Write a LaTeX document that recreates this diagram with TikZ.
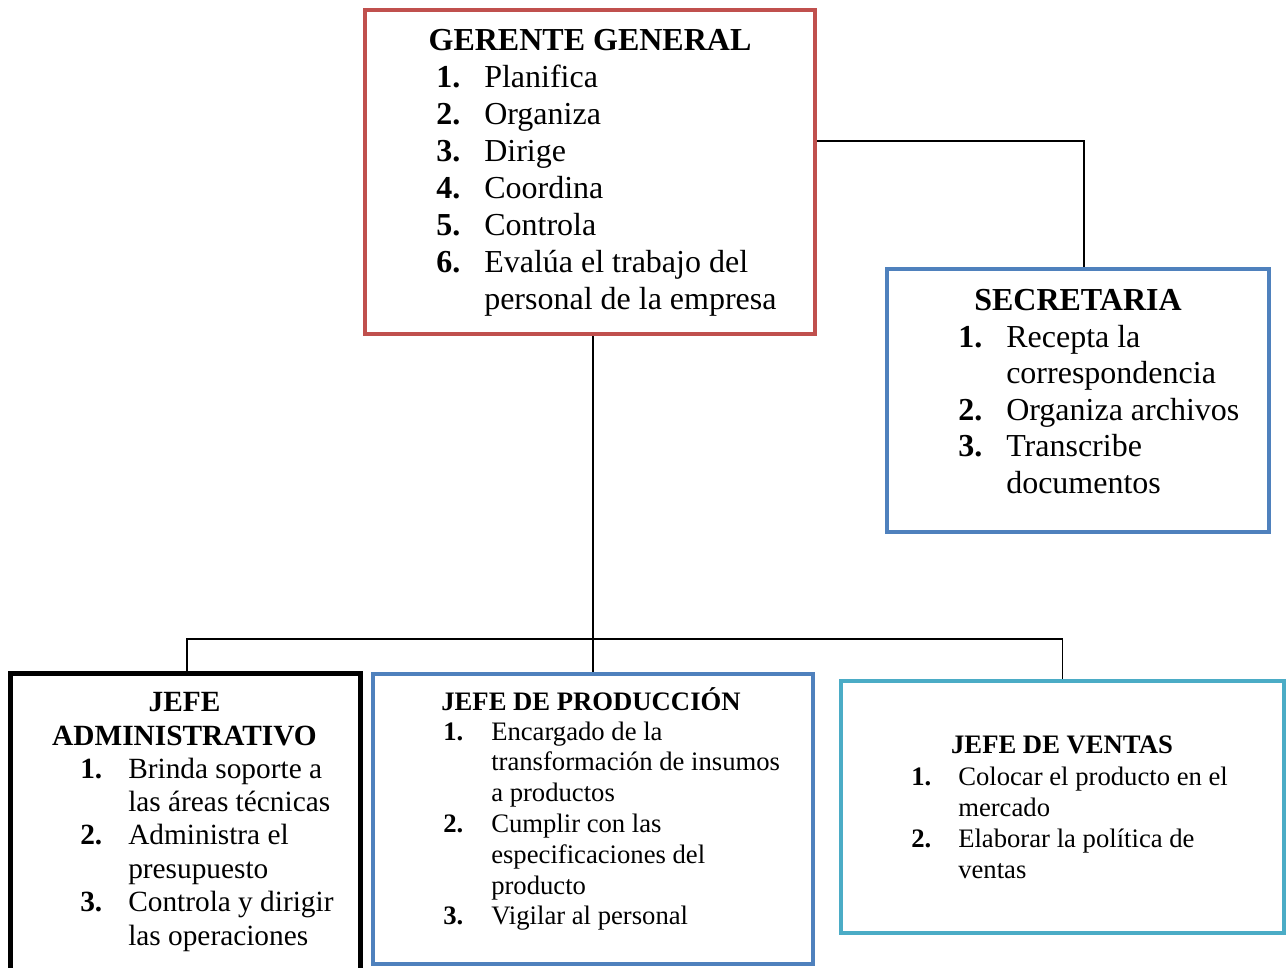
\documentclass[tikz,border=0pt]{standalone}
\usepackage{fontspec}
\setmainfont{Liberation Serif}
\usepackage{array}
\definecolor{boxred}{HTML}{C0504D}
\definecolor{boxblue}{HTML}{4F81BD}
\definecolor{boxcyan}{HTML}{4BACC6}
% numbered list: number column width, rows
\newcommand{\orglist}[2]{\begin{tabular}[t]{@{}p{#1}@{}l@{}}#2\end{tabular}}
\begin{document}
\begin{tikzpicture}[x=0.75pt,y=-0.75pt,
  orgbox/.style={draw,rectangle,inner sep=0pt,line width=3.4pt},
  conn/.style={draw,line width=1.2pt},
  title/.style={inner sep=0pt,anchor=base,font=\bfseries#1},
  items/.style={inner sep=0pt,anchor=base west,font=#1},
]
\useasboundingbox (0,0) rectangle (1287,967);

% boxes
\node[orgbox,draw=boxred,minimum width=337.5pt,minimum height=243pt] (ger) at (590,172) {};
\node[orgbox,draw=boxblue,minimum width=286.5pt,minimum height=197.25pt] (sec) at (1078,400.5) {};
\node[orgbox,draw=black,line width=3.75pt,minimum width=262.5pt,minimum height=224.25pt] (adm) at (185,822.5) {};
\node[orgbox,draw=boxblue,minimum width=330pt,minimum height=217.5pt] (prod) at (593,819) {};
\node[orgbox,draw=boxcyan,minimum width=332.25pt,minimum height=189pt] (ven) at (1062.5,807) {};

% texts
\node[title={\fontsize{24}{27.75}\selectfont}] (gertitle) at (590,50) {GERENTE GENERAL};
\node[items={\fontsize{24}{27.75}\selectfont}] (geritems) at (436,87) {\orglist{36pt}{%
  \textbf{1.} & Planifica\\
  \textbf{2.} & Organiza\\
  \textbf{3.} & Dirige\\
  \textbf{4.} & Coordina\\
  \textbf{5.} & Controla\\
  \textbf{6.} & Evalúa el trabajo del\\
              & personal de la empresa}};

\node[title={\fontsize{24}{27.45}\selectfont}] (sectitle) at (1078,310) {SECRETARIA};
\node[items={\fontsize{24}{27.45}\selectfont}] (secitems) at (958,347) {\orglist{36pt}{%
  \textbf{1.} & Recepta la\\
              & correspondencia\\
  \textbf{2.} & Organiza archivos\\
  \textbf{3.} & Transcribe\\
              & documentos}};

\node[title={\fontsize{22}{25.1}\selectfont},align=center] (admtitle) at (184.5,745) {JEFE\\ADMINISTRATIVO};
\node[items={\fontsize{22}{25.1}\selectfont}] (admitems) at (80,778) {\orglist{36pt}{%
  \textbf{1.} & Brinda soporte a\\
              & las áreas técnicas\\
  \textbf{2.} & Administra el\\
              & presupuesto\\
  \textbf{3.} & Controla y dirigir\\
              & las operaciones}};

\node[title={\fontsize{20}{23.1}\selectfont}] (prodtitle) at (591,710) {JEFE DE PRODUCCIÓN};
\node[items={\fontsize{20}{23.1}\selectfont}] (proditems) at (443,740) {\orglist{36pt}{%
  \textbf{1.} & Encargado de la\\
              & transformación de insumos\\
              & a productos\\
  \textbf{2.} & Cumplir con las\\
              & especificaciones del\\
              & producto\\
  \textbf{3.} & Vigilar al personal}};

\node[title={\fontsize{20}{23.1}\selectfont}] (ventitle) at (1062,753) {JEFE DE VENTAS};
\node[items={\fontsize{20}{23.3}\selectfont}] (venitems) at (911,785) {\orglist{35.25pt}{%
  \textbf{1.} & Colocar el producto en el\\
              & mercado\\
  \textbf{2.} & Elaborar la política de\\
              & ventas}};

% connectors
\coordinate (bus) at (593,639);
\draw[conn] (ger.east |- 0,141) -| ([xshift=4.5pt]sec.north);
\draw[conn] ([xshift=2.25pt]ger.south) -- (prod.north);
\draw[conn] ([xshift=1.5pt]adm.north) |- (ven.north |- bus) -- (ven.north);
\end{tikzpicture}
\end{document}
